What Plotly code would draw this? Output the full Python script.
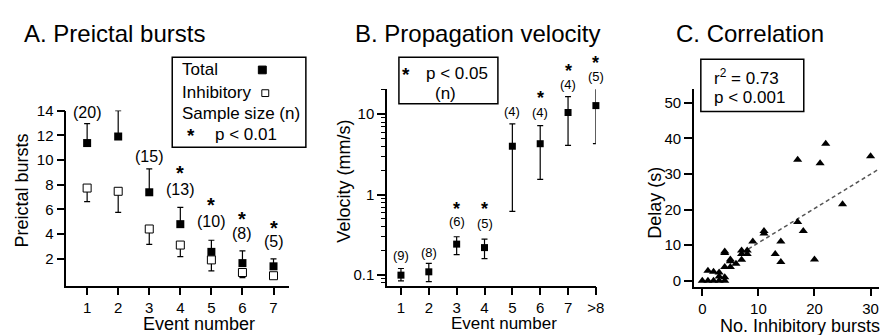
import math
import plotly.graph_objects as go

W, H = 888, 335
FONT = "Liberation Sans, Arial, Helvetica, sans-serif"

# ---------------- Panel A data ----------------
a_events = [1, 2, 3, 4, 5, 6, 7]
a_total = [11.37, 11.9, 7.39, 4.81, 2.57, 1.66, 1.40]
a_total_sem = [1.57, 2.1, 1.9, 1.35, 0.94, 0.99, 0.6]
a_inhib = [7.73, 7.47, 4.42, 3.12, 1.92, 0.9, 0.64]
a_inhib_sem = [1.1, 1.7, 1.25, 0.94, 0.89, 0.41, 0.14]
a_n_labels = ["(20)", "(18)", "(15)", "(13)", "(10)", "(8)", "(5)"]
a_n_label_y = [13.85, 15.0, 10.28, 7.6, 5.0, 4.08, 3.43]
a_star_y = [None, None, None, 8.98, 6.35, 5.25, 4.52]
a_yticks = [2, 4, 6, 8, 10, 12, 14]

# ---------------- Panel B data ----------------
b_events = [1, 2, 3, 4, 5, 6, 7, 8]
b_ticktext = ["1", "2", "3", "4", "5", "6", "7", ">8"]
b_vel = [0.10, 0.11, 0.243, 0.22, 4.0, 4.3, 10.5, 12.8]
b_vel_hi = [0.121, 0.14, 0.30, 0.28, 7.6, 7.2, 16.5, 21.0]
b_vel_lo = [0.085, 0.083, 0.18, 0.16, 0.62, 1.55, 4.1, 4.3]
b_n_labels = ["(9)", "(8)", "(6)", "(5)", "(4)", "(4)", "(4)", "(5)"]
b_n_label_y = [0.166, 0.179, 0.44, 0.41, 10.2, 10.0, 21.9, 27.4]
b_star_y = [None, None, 0.635, 0.635, None, 15.0, 32.3, 40.8]
b_major = [0.1, 1, 10]
b_major_text = ["0.1", "1", "10"]
b_minor = [0.08, 0.09, 0.2, 0.3, 0.4, 0.5, 0.6, 0.7, 0.8, 0.9,
           2, 3, 4, 5, 6, 7, 8, 9, 20]
B_LOG_RANGE = [-1.13, 1.31]

# ---------------- Panel C data ----------------
c_inhib_bursts = [0, 1, 1, 2, 2, 3, 3, 3, 4, 4, 4, 4, 4, 5, 5, 5, 6, 7, 7, 7,
                  8, 8, 9, 11, 11, 13, 14, 14, 17, 17, 18, 20, 21, 22, 25, 26, 30]
c_delay = [0, 0, 2.8, 0, 2.5, 2.3, 1.2, 0, 0, 1, 3.9, 8.2, 7.8, 6, 5.5, 3.9, 4.8,
           5.9, 8.5, 7.5, 8.5, 7.5, 11, 14, 13.3, 7.5, 11, 5.3, 34, 16.5, 14, 6,
           33, 38.5, 21.5, 54, 35]
c_fit_slope = 0.965
c_fit_intercept = 1.0
c_fit_x = [8.2, 31.5]
c_fit_y = [c_fit_slope * v + c_fit_intercept for v in c_fit_x]


def px(x):
    return x / W


def py(y):
    return 1 - y / H


def b_dom(v):
    lo, hi = B_LOG_RANGE
    return (math.log10(v) - lo) / (hi - lo)


fig = go.Figure()

# Panel A traces
fig.add_trace(go.Scatter(
    x=a_events, y=a_total, mode="markers", xaxis="x", yaxis="y",
    marker=dict(symbol="square", size=8, color="black"),
    error_y=dict(type="data", symmetric=False, array=a_total_sem,
                 arrayminus=[0] * len(a_total_sem), color="black",
                 thickness=1.2, width=3),
    cliponaxis=False, showlegend=False))
fig.add_trace(go.Scatter(
    x=a_events, y=a_inhib, mode="markers", xaxis="x", yaxis="y",
    marker=dict(symbol="square", size=8, color="white",
                line=dict(color="black", width=1)),
    error_y=dict(type="data", symmetric=False, array=[0] * len(a_inhib_sem),
                 arrayminus=a_inhib_sem, color="black",
                 thickness=1.2, width=3),
    cliponaxis=False, showlegend=False))

# Panel B traces
fig.add_trace(go.Scatter(
    x=b_events, y=b_vel, mode="markers", xaxis="x2", yaxis="y2",
    marker=dict(symbol="square", size=7, color="black"),
    error_y=dict(type="data", symmetric=False,
                 array=[h - v for h, v in zip(b_vel_hi, b_vel)],
                 arrayminus=[v - l for v, l in zip(b_vel, b_vel_lo)],
                 color="black", thickness=1.2, width=3),
    cliponaxis=False, showlegend=False))

# Panel C traces
fig.add_trace(go.Scatter(
    x=c_fit_x, y=c_fit_y, mode="lines", xaxis="x3", yaxis="y3",
    line=dict(color="#555555", width=1.5, dash="4px,3px"),
    showlegend=False))
fig.add_trace(go.Scatter(
    x=c_inhib_bursts, y=c_delay, mode="markers", xaxis="x3", yaxis="y3",
    marker=dict(symbol="triangle-up", size=8, color="black"),
    cliponaxis=False, showlegend=False))

axis_common = dict(showline=True, linecolor="black", linewidth=1.6,
                   showgrid=False, zeroline=False, ticks="outside",
                   ticklen=8, tickwidth=1.5, tickcolor="black",
                   tickfont=dict(size=15, color="black", family=FONT),
                   fixedrange=True)

fig.update_layout(
    width=W, height=H,
    margin=dict(l=0, r=0, t=0, b=0),
    paper_bgcolor="white", plot_bgcolor="white",
    font=dict(family=FONT, color="black"),
    xaxis=dict(domain=[px(67), px(292)], range=[0.33, 7.5],
               tickvals=a_events, anchor="y", **axis_common),
    yaxis=dict(domain=[py(286), py(105)], range=[-0.16, 14.0],
               tickvals=a_yticks, anchor="x", **axis_common),
    xaxis2=dict(domain=[px(391), px(602)], range=[0.5, 8.0],
                tickvals=b_events, ticktext=b_ticktext, anchor="y2",
                **axis_common),
    yaxis2=dict(domain=[py(286), py(83)], type="log", range=B_LOG_RANGE,
                tickvals=b_major, ticktext=b_major_text, anchor="x2",
                minor=dict(tickvals=b_minor, ticks="outside", ticklen=4,
                           tickwidth=1, tickcolor="black"),
                **axis_common),
    xaxis3=dict(domain=[px(701), 1.0], range=[-1.5, 31.5],
                tickvals=[0, 10, 20, 30], anchor="y3", **axis_common),
    yaxis3=dict(domain=[py(287), py(83)], range=[-1.63, 53.8],
                tickvals=[0, 10, 20, 30, 40, 50], anchor="x3", **axis_common),
)

ann = []


def add_text(text, x, y, size, xanchor="center", angle=0, yshift=0,
             xref="paper", yref="paper"):
    ann.append(dict(text=text, x=x, y=y, xref=xref, yref=yref,
                    xanchor=xanchor, yanchor="middle", showarrow=False,
                    textangle=angle, yshift=yshift,
                    font=dict(size=size, family=FONT, color="black")))


# Panel titles
add_text("A. Preictal bursts", px(116), py(25), 24)
add_text("B. Propagation velocity", px(482), py(25), 24)
add_text("C. Correlation", px(758), py(25), 24)

# Axis titles
add_text("Event number", px(201), py(326), 18)
add_text("Preictal bursts", px(22), py(188), 18, angle=-90)
add_text("Event number", px(509), py(325), 17)
add_text("Velocity (mm/s)", px(348), py(178), 18, angle=-90)
add_text("No. Inhibitory bursts", px(808), py(328), 18)
add_text("Delay (s)", px(662), py(200), 18, angle=-90)

# Panel A sample sizes and stars
for xv, lab, yv, sy in zip(a_events, a_n_labels, a_n_label_y, a_star_y):
    add_text(lab, xv, yv, 16, xref="x", yref="y")
    if sy is not None:
        add_text("<b>*</b>", xv, sy, 20, xref="x", yref="y", yshift=0)

# Panel B sample sizes and stars (positions from log axis fraction)
for xv, lab, yv, sy in zip(b_events, b_n_labels, b_n_label_y, b_star_y):
    add_text(lab, xv, b_dom(yv), 13, xref="x2", yref="y2 domain", yshift=2)
    if sy is not None:
        add_text("<b>*</b>", xv, b_dom(sy), 18, xref="x2", yref="y2 domain",
                 yshift=2)

# Legend A
add_text("Total", px(182), py(63), 17, xanchor="left")
add_text("Inhibitory", px(182), py(86), 17, xanchor="left")
add_text("Sample size (n)", px(182), py(108), 17, xanchor="left")
add_text("<b>*</b>", px(193), py(131), 19)
add_text("p < 0.01", px(215), py(130), 17, xanchor="left")

# Legend B
add_text("<b>*</b>", px(410), py(68), 19)
add_text("p < 0.05", px(428), py(67), 17, xanchor="left")
add_text("(n)", px(450), py(87), 17)

# Legend C
add_text("r<sup>2</sup> = 0.73", px(719), py(70), 17, xanchor="left")
add_text("p < 0.001", px(719), py(91), 17, xanchor="left")

fig.update_layout(annotations=ann)

shapes = [
    dict(type="rect", xref="paper", yref="paper", x0=px(174), x1=px(309),
         y0=py(143), y1=py(50), line=dict(color="black", width=1.5)),
    dict(type="rect", xref="paper", yref="paper", x0=px(261), x1=px(269),
         y0=py(67), y1=py(59), fillcolor="black",
         line=dict(color="black", width=1)),
    dict(type="rect", xref="paper", yref="paper", x0=px(264.5), x1=px(271.5),
         y0=py(90.5), y1=py(83.5), fillcolor="white",
         line=dict(color="black", width=1)),
    dict(type="rect", xref="paper", yref="paper", x0=px(403), x1=px(503),
         y0=py(98), y1=py(50), line=dict(color="black", width=1.5)),
    dict(type="rect", xref="paper", yref="paper", x0=px(708), x1=px(812),
         y0=py(106), y1=py(52), line=dict(color="black", width=1.5)),
]
fig.update_layout(shapes=shapes)

fig.write_html("out.html")
